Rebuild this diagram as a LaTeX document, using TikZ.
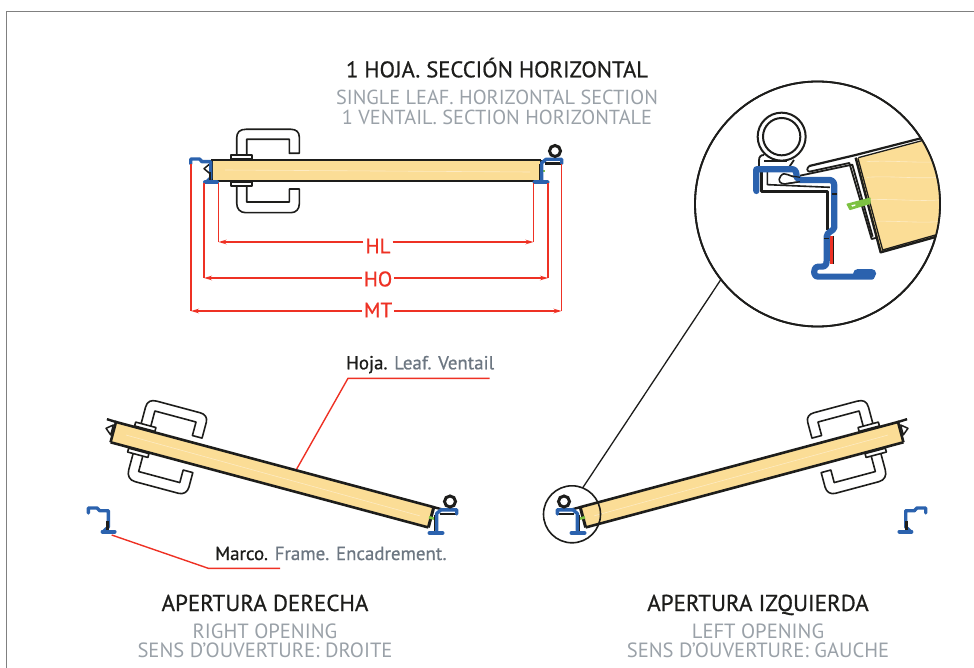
\documentclass[tikz,border=0pt]{standalone}
\usepackage{fontspec}
\setmainfont{PT Sans}
\newfontfamily\medfont[FakeBold=0.7]{PT Sans}
\usetikzlibrary{arrows.meta}
\definecolor{wood}{HTML}{FBDD96}
\definecolor{woodlight}{HTML}{FDEBC4}
\definecolor{ironblue}{HTML}{2B62AE}
\definecolor{dimred}{HTML}{EE3124}
\definecolor{tagreen}{HTML}{7DC242}
\definecolor{inkblack}{HTML}{1D1D1B}
\definecolor{softgray}{HTML}{9AA1A8}
\definecolor{midgray}{HTML}{6D7782}
\tikzset{
  ink/.style={draw=inkblack,line width=2.6pt},
  handleline/.style={draw=inkblack,line width=1.6pt,line join=round},
  blueline/.style={draw=ironblue,line width=3.4pt,line cap=round,line join=round},
  dim/.style={draw=dimred,line width=1.4pt},
  dimarrow/.style={dim,-{Stealth[length=8pt,width=4.6pt]}},
  dimlabel/.style={fill=white,inner sep=2pt,text=dimred,font=\medfont\fontsize{21}{21}\selectfont},
  headtext/.style={anchor=base,inner sep=0pt,text=inkblack,font=\medfont\fontsize{23}{23}\selectfont},
  subtext/.style={anchor=base,inner sep=0pt,text=softgray,font=\fontsize{20.6}{21}\selectfont},
  calltext/.style={anchor=base west,inner sep=0pt,text=midgray,font=\medfont\fontsize{18.9}{19}\selectfont},
  lens/.style={circle,draw=inkblack,inner sep=0pt,outer sep=0pt},
}
\newcommand{\DoorLeaf}{%
  \path[fill=wood] (212,160) rectangle (540,181);
  \draw[woodlight,line width=.6pt] (225,170) -- (530,172);
  \draw[ink] (212,181) -- (212,160) -- (541,160);
  \draw[ink] (212,181) -- (541,181);
  \draw[inkblack,line width=3pt] (541,160) -- (541,181);
  \draw[inkblack,fill=white,line width=1.5pt,line join=round] (204,168.7) -- (210.2,163.6) -- (210.3,173.9) -- cycle;
  \draw[tagreen,line width=2.6pt] (539,171) -- (545,171);
  \draw[handleline,fill=white] (231,155) rectangle (252,159);
  \draw[handleline,fill=white] (231,182) rectangle (252,186);
  \draw[handleline] (236.7,155) -- (236.7,138) .. controls (236.7,132) and (240,129.3) .. (246,129.3) -- (291,129.3) .. controls (296,129.3) and (299.3,132) .. (299.3,137) -- (299.3,153.3) -- (289.3,153.3) -- (289.3,139.3) -- (246.7,139.3) -- (246.7,155);
  \draw[handleline] (236.7,186) -- (236.7,203) .. controls (236.7,209) and (240,212.7) .. (246,212.7) -- (291,212.7) .. controls (296,212.7) and (299.3,209) .. (299.3,204) -- (299.3,189) -- (289.3,189) -- (289.3,202) -- (246.7,202) -- (246.7,186);
}
\newcommand{\HingeFrame}{%
  \draw[blueline] (190.7,164) -- (190.7,159) -- (199.5,159) -- (202,161.7) -- (210.7,161.7) -- (210.7,178) -- (206,182.3);
  \draw[blueline,line width=4pt] (205,182.5) -- (217,182.5);
  \draw[inkblack,line width=2.6pt] (210,172) -- (210,180.5);
}
\newcommand{\LatchFrame}{%
  \draw[inkblack,line width=1.5pt] (539.6,164) -- (539.6,180);
  \draw[inkblack,line width=2.4pt] (545,163.5) -- (561,163.5);
  \draw[blueline] (561.7,163.5) -- (561.7,159.3) -- (546,159.3) -- (541.7,163) -- (541.7,180);
  \draw[blueline,line width=4pt] (534.5,182.5) -- (547.5,182.5);
  \draw[inkblack,line width=3pt,fill=white] (555,151) circle[radius=5.5];
}
\newcommand{\OpenDoor}{%
  \begin{scope}[shift={(116,422)},rotate=-15,shift={(-212,-160)}]
    \draw[inkblack,line width=2.4pt] (202.5,159.6) -- (212,160);
    \draw[inkblack,line width=2.4pt] (541,160) -- (551,160);
    \DoorLeaf
  \end{scope}
  \begin{scope}[shift={(-102.4,349)}]\HingeFrame\end{scope}
  \begin{scope}[shift={(-105,350.5)}]\LatchFrame\end{scope}
}
\begin{document}
\begin{tikzpicture}[x=1pt,y=-1pt]
\useasboundingbox (0,0) rectangle (974,668);
% sheet border
\draw[gray,line width=1.4pt] (6.5,668) -- (6.5,11.5) -- (974,11.5);
% titles
\node[headtext,font=\medfont\fontsize{22.6}{23}\selectfont] (title) at (497,77.3) {1 HOJA. SECCIÓN HORIZONTAL};
\node[subtext,font=\fontsize{20.3}{21}\selectfont] (titleen) at (497,105) {SINGLE LEAF. HORIZONTAL SECTION};
\node[subtext,font=\fontsize{20.3}{21}\selectfont] (titlefr) at (497,124.5) {1 VENTAIL. SECTION HORIZONTALE};
% top view
\DoorLeaf
\HingeFrame
\LatchFrame
% dimensions
\coordinate (hlLt) at (218.5,183); \coordinate (hlRt) at (533.5,183);
\coordinate (hoLt) at (204,183);   \coordinate (hoRt) at (548,183);
\coordinate (mtLt) at (191,164);   \coordinate (mtRt) at (561.5,164);
\coordinate (hlL) at (218.5,242);  \coordinate (hlR) at (533.5,242);
\coordinate (hoL) at (204,278);    \coordinate (hoR) at (548,278);
\coordinate (mtL) at (191,311);    \coordinate (mtR) at (561.5,311);
\node[dimlabel] (hl) at (378,246) {HL};
\node[dimlabel] (ho) at (378,279) {HO};
\node[dimlabel] (mt) at (378,310) {MT};
\foreach \a/\b in {hlLt/hlL,hlRt/hlR,hoLt/hoL,hoRt/hoR,mtLt/mtL,mtRt/mtR}{\draw[dim] (\a) -- (\b);}
\draw[dimarrow] (hl.west|-hlL) -- (hlL);
\draw[dimarrow] (hl.east|-hlR) -- (hlR);
\draw[dimarrow] (ho.west|-hoL) -- (hoL);
\draw[dimarrow] (ho.east|-hoR) -- (hoR);
\draw[dimarrow] (mt.west|-mtL) -- (mtL);
\draw[dimarrow] (mt.east|-mtR) -- (mtR);
% right opening
\OpenDoor
% left opening (mirror)
\begin{scope}[shift={(1014,0)},xscale=-1]
\OpenDoor
\end{scope}
% callouts
\node[calltext] (hoja) at (346,369.3) {\textcolor{inkblack}{Hoja.} Leaf. Ventail};
\node[calltext] (marco) at (215,560) {\textcolor{inkblack}{Marco.} Frame. Encadrement.};
\coordinate (hojaEnd) at (489.5,378.3);
\coordinate (hojaKnee) at (348,378.3);
\coordinate (hojaTip) at (296.7,469);
\coordinate (marcoEnd) at (280,568.3);
\coordinate (marcoKnee) at (208.3,568.3);
\coordinate (marcoTip) at (111.7,535);
\draw[dim] (hojaEnd) -- (hojaKnee) -- (hojaTip);
\draw[dim] (marcoEnd) -- (marcoKnee) -- (marcoTip);
% bottom titles
\node[headtext] (rh) at (265,611) {APERTURA DERECHA};
\node[subtext] (rh2) at (265,638) {RIGHT OPENING};
\node[subtext] (rh3) at (265,657) {SENS D'OUVERTURE: DROITE};
\node[headtext] (lh) at (758,611) {APERTURA IZQUIERDA};
\node[subtext] (lh2) at (758,638) {LEFT OPENING};
\node[subtext] (lh3) at (758,657) {SENS D'OUVERTURE: GAUCHE};
% lenses
\node[lens,line width=1.6pt,minimum size=57pt] (small) at (572,514.3) {};
\node[lens,line width=1.8pt,minimum size=245pt,fill=white] (big) at (817.5,204) {};
\draw[inkblack,line width=1.3pt] (small.68) -- (big.218.7);
% detail
\begin{scope}
\clip (817.5,204) circle[radius=122];
\begin{scope}[shift={(690,90)},x=0.3333pt,y=-0.3333pt]
  \path[fill=wood] (497,205) -- (800,125) -- (800,420) -- (572,485) -- cycle;
  \foreach \yy in {215,262,330,395}{\draw[woodlight,line width=.6pt] (530,\yy) .. controls (600,\yy-5) and (680,\yy+5) .. (745,\yy);}
  \draw[inkblack,line width=2.2pt,line join=round] (358,228) -- (497,195) -- (700,143);
  \draw[inkblack,line width=2.4pt,line join=round] (497,203) -- (572,487) -- (740,440);
  \draw[inkblack,line width=1.3pt] (505,203) -- (700,151);
  \draw[inkblack,line width=1.3pt] (504,205) -- (578,480) -- (740,434);
  \draw[inkblack,line width=1.8pt,line join=round,line cap=round] (358,228) .. controls (350,235) and (350,243) .. (358,245) -- (478,219) -- (545,447) -- (557,444);
  \draw[inkblack,line width=1.8pt,line join=round] (330,257) -- (487,224) -- (548,440);
  \draw[tagreen,fill=tagreen,line join=round,line width=1.5pt] (472,343) -- (540,325) -- (540,340) -- (480,358) -- cycle;
  \path[fill=white] (484,346) -- (496,343) -- (496,347) -- (487,350) -- cycle;
  % ring and clip
  \draw[inkblack,line width=2pt] (275,140) circle[radius=72];
  \draw[inkblack,line width=2pt] (275,140) circle[radius=56];
  \draw[inkblack,line width=1.8pt,line join=round] (207,240) -- (207,212) .. controls (207,200) and (212,195) .. (222,195);
  \draw[inkblack,line width=1.8pt] (222,212) -- (290,212);
  \draw[inkblack,line width=1.8pt] (312,210) -- (288,245);
  % inner black profile
  \draw[inkblack,line width=2.4pt,line join=round] (215,240) -- (215,305) -- (412,305) -- (412,420);
  \draw[inkblack,line width=1.6pt,line join=round] (232,240) -- (232,284) -- (420,292);
  % hook
  \draw[inkblack,line width=1.6pt,fill=white] (330,262) .. controls (300,265) and (285,240) .. (272,258) .. controls (262,272) and (270,282) .. (285,282) -- (330,275);
  % red
  \path[fill=dimred] (419,438) rectangle (431,521);
  \draw[inkblack,line width=1.3pt] (431.5,438) -- (431.5,523);
  % blue
  \draw[ironblue,line width=6.2pt,line cap=round,line join=round] (199,303) -- (199,238) -- (310,238) .. controls (318,240) and (320,250) .. (320,262) -- (330,270) -- (420,270) .. controls (430,272) and (433,278) .. (433,290) -- (433,412) .. controls (432,424) and (410,425) .. (410,440) -- (410,512) .. controls (410,525) and (405,530) .. (395,530) -- (385,530) .. controls (375,530) and (372,540) .. (373,550) .. controls (374,558) and (378,560) .. (385,560) -- (545,560);
  \draw[ironblue,line width=9pt,line cap=round] (503,551) -- (545,551);
  \draw[inkblack,line width=1.2pt] (425,312) -- (441,312);
  \draw[inkblack,line width=1.2pt] (402,445) -- (418,445);
  \draw[inkblack,line width=1.2pt] (305,258) -- (330,262);
  \draw[inkblack,line width=1.2pt] (280,282) -- (330,275);
\end{scope}
\end{scope}
\node[lens,line width=1.8pt,minimum size=245pt] (bigring) at (817.5,204) {};
\end{tikzpicture}
\end{document}
